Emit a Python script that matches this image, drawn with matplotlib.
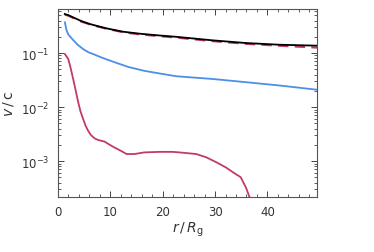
import numpy as np
import matplotlib
matplotlib.use("Agg")
import matplotlib.pyplot as plt
from matplotlib.ticker import MultipleLocator, LogLocator, NullFormatter

# values (r in units of R_g, log10 of v/c)
r_black = [1.3, 2.0, 2.9, 4.5, 6.1, 7.7, 9.25, 12.4, 15.6, 19.0, 22.6, 29.5, 35.9, 42.2, 49.5]
log_black = [-0.278, -0.30, -0.34, -0.41, -0.463, -0.505, -0.543, -0.605, -0.642,
             -0.672, -0.70, -0.765, -0.815, -0.846, -0.864]

r_dash = [1.3, 2.0, 2.9, 4.5, 6.1, 7.7, 9.25, 12.4, 15.6, 19.0, 22.6, 29.5, 35.9, 42.2, 49.5]
log_dash = [-0.29, -0.31, -0.35, -0.42, -0.47, -0.512, -0.55, -0.615, -0.655,
            -0.685, -0.715, -0.78, -0.83, -0.865, -0.90]

r_blue = [1.33, 1.5, 1.65, 2.0, 2.9, 3.8, 4.8, 5.8, 7.0, 8.5, 10.8, 13.5, 16.5, 19.5,
          22.6, 26.0, 29.5, 35.9, 42.2, 49.5]
log_blue = [-0.432, -0.52, -0.586, -0.66, -0.76, -0.85, -0.926, -0.985, -1.03, -1.09,
            -1.17, -1.26, -1.33, -1.38, -1.43, -1.455, -1.48, -1.54, -1.60, -1.68]

r_red = [1.33, 1.96, 2.4, 2.9, 3.4, 3.86, 4.3, 4.8, 5.3, 5.76, 6.3, 7.0, 7.66, 8.9,
         9.9, 10.8, 12.0, 13.1, 14.6, 16.5, 19.4, 21.9, 23.2, 24.8, 26.4, 28.3, 30.2,
         32.1, 33.3, 34.9, 35.9, 36.7]
log_red = [-1.02, -1.11, -1.27, -1.48, -1.70, -1.91, -2.08, -2.22, -2.35, -2.44, -2.52,
           -2.58, -2.61, -2.64, -2.70, -2.75, -2.81, -2.87, -2.87, -2.84, -2.83, -2.83,
           -2.84, -2.855, -2.87, -2.93, -3.02, -3.12, -3.20, -3.30, -3.49, -3.70]

red = "#c23b62"
blue = "#4f8ee6"

fig = plt.figure(figsize=(3.74, 2.53), dpi=100)
ax = fig.add_axes([0.155, 0.217, 0.693, 0.743])

ax.plot(r_blue, 10 ** np.array(log_blue), color=blue, lw=1.3)
ax.plot(r_red, 10 ** np.array(log_red), color=red, lw=1.3)
ax.plot(r_dash, 10 ** np.array(log_dash), color=red, lw=1.5, ls=(0, (5, 3)))
ax.plot(r_black, 10 ** np.array(log_black), color="black", lw=1.3)

ax.set_yscale("log")
ax.set_xlim(0, 49.5)
ax.set_ylim(2.15e-4, 0.65)

ax.xaxis.set_major_locator(MultipleLocator(10))
ax.xaxis.set_minor_locator(MultipleLocator(2))
ax.yaxis.set_major_locator(LogLocator(base=10, numticks=10))
ax.yaxis.set_minor_locator(LogLocator(base=10, subs=np.arange(2, 10), numticks=20))
ax.yaxis.set_minor_formatter(NullFormatter())

ax.tick_params(which="both", direction="in", top=True, right=True,
               colors="#444444", labelsize=8.5, labelcolor="#333333")
ax.tick_params(which="major", length=4, width=0.7, pad=6)
ax.tick_params(which="minor", length=2, width=0.6)
for s in ax.spines.values():
    s.set_color("#555555")
    s.set_linewidth(0.8)

ax.set_xlabel(r"$r\,/\,R_{\rm g}$", fontsize=10, color="#333333", labelpad=1)
ax.set_ylabel(r"$v\,/\,{\rm c}$", fontsize=10, color="#333333", labelpad=4)

fig.savefig("out.png", dpi=100)
